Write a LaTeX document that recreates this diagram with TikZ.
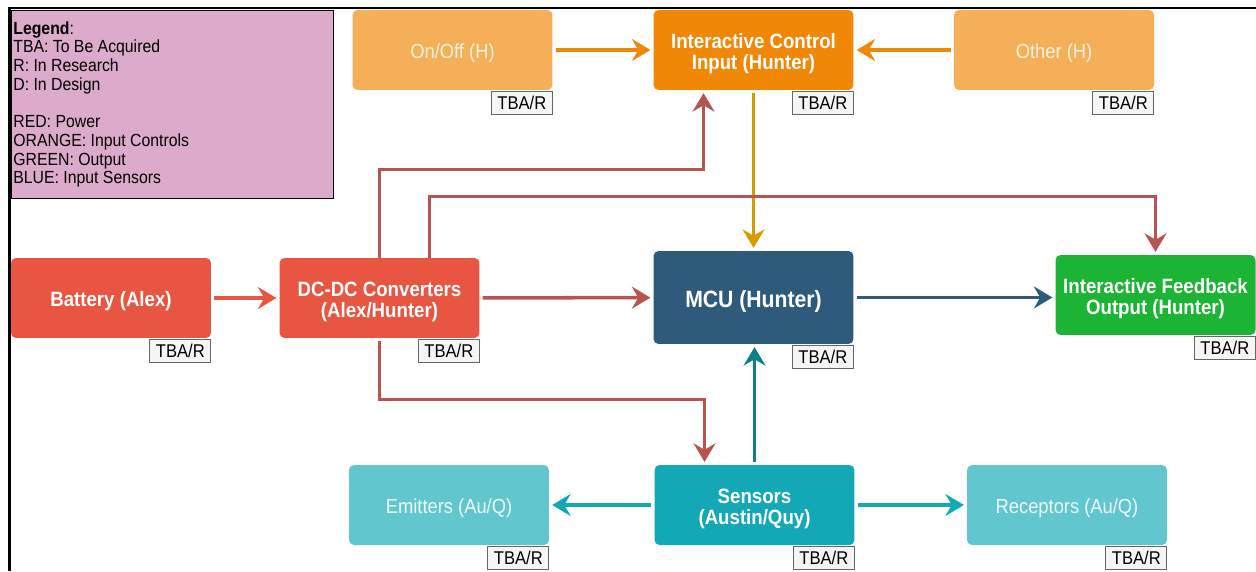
\documentclass[tikz,border=0pt]{standalone}
\usepackage{fontspec}
\setmainfont{Liberation Sans}[FakeStretch=0.9]
\usetikzlibrary{arrows.meta}

\definecolor{ltorange}{RGB}{245,175,88}
\definecolor{ctrlorange}{RGB}{240,135,5}
\definecolor{powerred}{RGB}{232,86,66}
\definecolor{mcublue}{RGB}{46,91,124}
\definecolor{outgreen}{RGB}{27,180,52}
\definecolor{senteal}{RGB}{18,168,181}
\definecolor{ltteal}{RGB}{98,198,206}
\definecolor{legendpink}{RGB}{220,170,203}
\definecolor{wirered}{RGB}{184,84,80}
\definecolor{wiregold}{RGB}{215,155,0}
\definecolor{wireteal}{RGB}{14,128,136}
\definecolor{tagfill}{RGB}{245,245,245}
\definecolor{lighttext}{RGB}{255,243,228}
\definecolor{lighttealtext}{RGB}{238,250,251}

% strut that pushes two-line labels down a little
\newcommand{\lift}{\rule{0pt}{1.1em}}

\begin{document}
\begin{tikzpicture}[x=0.02cm,y=-0.02cm,
    box/.style={rectangle,rounded corners=0.1cm,minimum width=4cm,minimum height=1.6cm,
        inner sep=0pt,align=center,text=white,
        execute at begin node={\rule{0pt}{1.05em}},
        font=\fontsize{11.8pt}{11.9pt}\selectfont\bfseries},
    lightbox/.style={box,font=\fontsize{11.6pt}{11.9pt}\selectfont},
    tag/.style={rectangle,draw=black!60,fill=tagfill,line width=0.6pt,inner sep=0pt,
        minimum width=1.22cm,minimum height=0.46cm,anchor=north east,
        font=\fontsize{10.5pt}{10pt}\selectfont},
    wire/.style={line width=2pt,shorten >=1.6pt,shorten <=1.6pt,
        -{Stealth[length=10.5pt,width=12.5pt,inset=3.6pt]}}]

    % Fix the page size
    \useasboundingbox (0,0) rectangle (1256,571);

    % Draw the frame
    \draw[line width=1.7pt] (9.5,571) -- (9.5,8) -- (1256,8);

    % Draw the legend
    \node[rectangle,draw,line width=0.6pt,fill=legendpink,anchor=north west,
        minimum width=6.44cm,minimum height=3.76cm] (legend) at (11,10) {};
    \node[anchor=north west,inner sep=0pt,align=left,
        font=\fontsize{10pt}{10.66pt}\selectfont] (legendtext) at (13,21)
        {\textbf{Legend}:\\TBA: To Be Acquired\\R: In Research\\D: In Design\\[10.66pt]
         RED: Power\\ORANGE: Input Controls\\GREEN: Output\\BLUE: Input Sensors};

    % Input controls
    \node[lightbox,fill=ltorange,text=lighttext] (onoff) at (452.5,50) {On/Off (H)};
    \node[box,fill=ctrlorange] (ici) at (753.5,50) {\lift Interactive Control\\Input (Hunter)};
    \node[lightbox,fill=ltorange,text=lighttext] (other) at (1054,50) {Other (H)};

    % Power, MCU and output
    \node[box,fill=powerred] (battery) at (111,298) {Battery (Alex)};
    \node[box,fill=powerred] (dcdc) at (379.5,298) {\lift DC-DC Converters\\(Alex/Hunter)};
    \node[box,fill=mcublue,minimum height=1.86cm,font=\fontsize{13.4pt}{14pt}\selectfont\bfseries]
        (mcu) at (753.5,297.5) {MCU (Hunter)};
    \node[box,fill=outgreen] (feedback) at (1155.5,295) {\lift Interactive Feedback\\Output (Hunter)};

    % Sensors
    \node[lightbox,fill=ltteal,text=lighttealtext] (emitters) at (449,505) {Emitters (Au/Q)};
    \node[box,fill=senteal] (sensors) at (754.5,505) {\lift Sensors\\(Austin/Quy)};
    \node[lightbox,fill=ltteal,text=lighttealtext] (receptors) at (1067,505) {Receptors (Au/Q)};

    % Status tags
    \foreach \n in {onoff,ici,other,battery,dcdc,mcu,feedback,emitters,sensors,receptors}
        \node[tag] (\n tag) at ([yshift=-0.02cm]\n.south east) {TBA/R};

    % Control arrows
    \draw[wire,ctrlorange] (onoff) -- (ici);
    \draw[wire,ctrlorange] (other) -- (ici);
    \draw[wire,wiregold] (ici) -- (mcu);

    % Power arrows
    \draw[wire,powerred] (battery) -- (dcdc);
    \draw[wire,wirered] (dcdc) -- (mcu);
    \draw[wire,wirered,shorten <=0pt] (dcdc.north) -- ++(0,-88) -| ([xshift=-1cm]ici.south);
    \draw[wire,wirered,shorten <=0pt] ([xshift=1cm]dcdc.north) -- ++(0,-61) -| (feedback.north);
    \draw[wire,wirered] (dcdc.south) -- ++(0,61) -| ([xshift=-1cm]sensors.north);

    % Output and sensor arrows
    \draw[wire,mcublue] (mcu.east) -- (mcu.east -| feedback.west);
    \draw[wire,wireteal] (sensors.north) -- (sensors.north |- mcu.south);
    \draw[wire,senteal] (sensors) -- (emitters);
    \draw[wire,senteal] (sensors) -- (receptors);
\end{tikzpicture}
\end{document}
